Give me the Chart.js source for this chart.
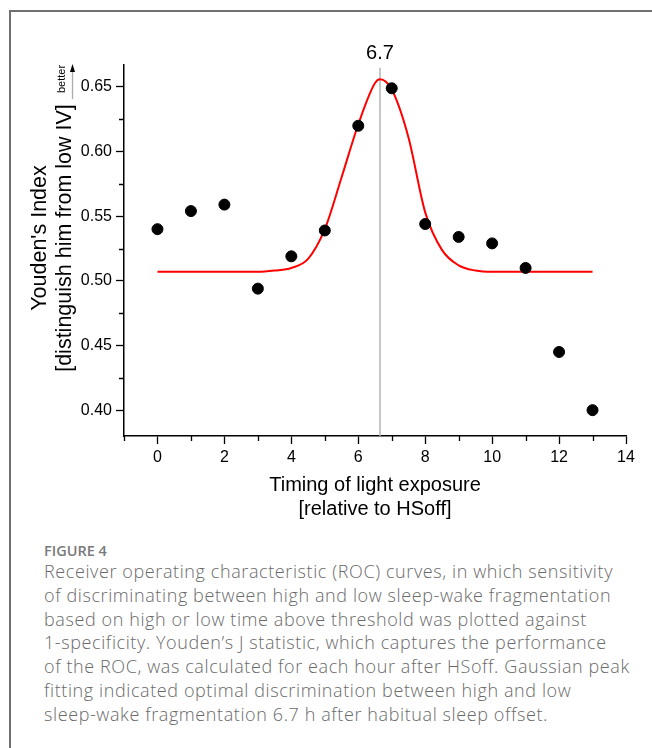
<!DOCTYPE html>
<html>
<head>
<meta charset="utf-8">
<script src="https://cdn.jsdelivr.net/npm/chart.js@4"></script>
<style>
  html, body { margin: 0; padding: 0; background: #fff; }
  body { width: 652px; height: 748px; position: relative; overflow: hidden; }
  .frame { position: absolute; left: 9px; top: 10px; right: 0; bottom: 0;
           border-left: 2px solid #6f6f6f; border-top: 2px solid #6f6f6f; }
  .plot { position: absolute; left: 0; top: 0; width: 652px; height: 540px; }
  .fig { position: absolute; left: 44px; top: 541px; font: 600 14.5px "Open Sans", sans-serif;
         color: #7a7a7a; }
  .cap { position: absolute; left: 44px; top: 560px; font: 300 18px "Open Sans", sans-serif;
         letter-spacing: 0.6px; line-height: 23.8px; color: #6a6a6a; white-space: nowrap; }
</style>
</head>
<body>
<div class="frame"></div>
<div class="plot"><canvas id="myChart" width="652" height="540"></canvas></div>
<div class="fig">FIGURE 4</div>
<div class="cap">Receiver operating characteristic (ROC) curves, in which sensitivity<br>of discriminating between high and low sleep-wake fragmentation<br>based on high or low time above threshold was plotted against<br>1-specificity. Youden’s J statistic, which captures the performance<br>of the ROC, was calculated for each hour after HSoff. Gaussian peak<br>fitting indicated optimal discrimination between high and low<br>sleep-wake fragmentation 6.7 h after habitual sleep offset.</div>
<script>
// measured Youden index per hour after HSoff
const hours = [0, 1, 2, 3, 4, 5, 6, 7, 8, 9, 10, 11, 12, 13];
const youden = [0.540, 0.554, 0.559, 0.494, 0.519, 0.539, 0.620, 0.649, 0.544, 0.534, 0.529, 0.510, 0.445, 0.400];

// gaussian fit curve
const fitX = [0, 0.5, 1, 1.5, 2, 2.5, 3, 3.5, 4, 4.5, 5, 5.5, 6, 6.5, 6.65, 7, 7.5, 8, 8.5, 9, 9.5, 10, 10.5, 11, 11.5, 12, 12.5, 13];
const fitY = [0.507, 0.507, 0.507, 0.507, 0.507, 0.507, 0.507, 0.508, 0.510, 0.517, 0.540, 0.580, 0.621, 0.653, 0.656, 0.648, 0.611, 0.553, 0.524, 0.512, 0.508, 0.507, 0.507, 0.507, 0.507, 0.507, 0.507, 0.507];

const peakX = 6.65;
const peakLabel = '6.7';

const xTicks = [-1, 0, 1, 2, 3, 4, 5, 6, 7, 8, 9, 10, 11, 12, 13, 14];
const yTicks = [0.40, 0.425, 0.45, 0.475, 0.50, 0.525, 0.55, 0.575, 0.60, 0.625, 0.65];
const yMajor = [0.40, 0.45, 0.50, 0.55, 0.60, 0.65];

const FONT = '"Liberation Sans", Arial, sans-serif';

const isMajorX = v => v % 2 === 0;
const isMajorY = v => yMajor.some(m => Math.abs(m - v) < 1e-6);

// minor ticks + extra labels
const extras = {
    id: 'extras',
    afterDraw(chart) {
        const ctx = chart.ctx;
        const x = chart.scales.x, y = chart.scales.y;
        const area = chart.chartArea;
        ctx.save();
        ctx.strokeStyle = '#000';
        ctx.lineWidth = 1.3;
        ctx.beginPath();
        xTicks.filter(v => !isMajorX(v)).forEach(v => {
            const px = Math.round(x.getPixelForValue(v)) + 0.5;
            ctx.moveTo(px, area.bottom);
            ctx.lineTo(px, area.bottom + 5);
        });
        yTicks.filter(v => !isMajorY(v)).forEach(v => {
            const py = Math.round(y.getPixelForValue(v)) + 0.5;
            ctx.moveTo(area.left, py);
            ctx.lineTo(area.left - 5, py);
        });
        ctx.stroke();

        ctx.fillStyle = '#000';
        ctx.textAlign = 'center';
        ctx.textBaseline = 'middle';
        ctx.font = '20px ' + FONT;
        ctx.fillText(peakLabel, x.getPixelForValue(peakX), 53);

        ctx.fillText('Timing of light exposure', (area.left + area.right) / 2, 485);
        ctx.fillText('[relative to HSoff]', (area.left + area.right) / 2, 509);

        ctx.font = '21.5px ' + FONT;
        ctx.save();
        ctx.translate(40, 238);
        ctx.rotate(-Math.PI / 2);
        ctx.fillText("Youden's Index", 0, 0);
        ctx.restore();
        ctx.save();
        ctx.translate(65, 238);
        ctx.rotate(-Math.PI / 2);
        ctx.fillText('[distinguish him from low IV]', 0, 0);
        ctx.restore();

        // "better" arrow
        ctx.save();
        ctx.translate(62, 79);
        ctx.rotate(-Math.PI / 2);
        ctx.font = '11px ' + FONT;
        ctx.fillText('better', 0, 0);
        ctx.restore();
        ctx.strokeStyle = '#aaa';
        ctx.lineWidth = 1.3;
        ctx.beginPath();
        ctx.moveTo(72.5, 99);
        ctx.lineTo(72.5, 70);
        ctx.stroke();
        ctx.fillStyle = '#000';
        ctx.beginPath();
        ctx.moveTo(72.5, 64);
        ctx.lineTo(70, 72);
        ctx.lineTo(75, 72);
        ctx.closePath();
        ctx.fill();
        ctx.restore();
    }
};

const config = {
    type: 'scatter',
    data: {
        datasets: [
            {
                type: 'scatter',
                data: hours.map((h, i) => ({ x: h, y: youden[i] })),
                backgroundColor: '#000',
                borderColor: '#000',
                pointRadius: 5.5,
                order: 1
            },
            {
                type: 'line',
                data: fitX.map((h, i) => ({ x: h, y: fitY[i] })),
                borderColor: '#ff0000',
                borderWidth: 2,
                pointRadius: 0,
                cubicInterpolationMode: 'monotone',
                fill: false,
                order: 2
            },
            {
                type: 'line',
                data: [{ x: peakX, y: 0.38 }, { x: peakX, y: 0.6648 }],
                borderColor: '#b4b4b4',
                borderWidth: 1.5,
                pointRadius: 0,
                fill: false,
                order: 3
            }
        ]
    },
    options: {
        responsive: false,
        animation: false,
        events: [],
        layout: { padding: { top: 65, right: 26, bottom: 0, left: 0 } },
        plugins: { legend: { display: false }, tooltip: { enabled: false } },
        scales: {
            x: {
                type: 'linear',
                min: -1,
                max: 14,
                afterBuildTicks: s => { s.ticks = xTicks.map(v => ({ value: v })); },
                afterFit: s => { s.height = 104; },
                ticks: {
                    autoSkip: false,
                    maxRotation: 0,
                    padding: 4,
                    color: '#000',
                    font: { family: FONT, size: 16 },
                    callback: v => isMajorX(v) ? String(v) : ''
                },
                grid: {
                    drawOnChartArea: false,
                    drawTicks: true,
                    tickLength: 8,
                    tickWidth: 1.3,
                    tickColor: c => isMajorX(c.tick.value) ? '#000' : 'rgba(0,0,0,0)'
                },
                border: { color: '#000', width: 1.5 }
            },
            y: {
                type: 'linear',
                min: 0.38,
                max: 0.667,
                afterBuildTicks: s => { s.ticks = yTicks.map(v => ({ value: v })); },
                afterFit: s => { s.width = 124; },
                ticks: {
                    autoSkip: false,
                    padding: 4,
                    color: '#000',
                    font: { family: FONT, size: 16 },
                    callback: v => isMajorY(v) ? v.toFixed(2) : ''
                },
                grid: {
                    drawOnChartArea: false,
                    drawTicks: true,
                    tickLength: 8,
                    tickWidth: 1.3,
                    tickColor: c => isMajorY(c.tick.value) ? '#000' : 'rgba(0,0,0,0)'
                },
                border: { color: '#000', width: 1.5 }
            }
        }
    },
    plugins: [extras]
};

const myChart = new Chart(document.getElementById('myChart'), config);
</script>
</body>
</html>
